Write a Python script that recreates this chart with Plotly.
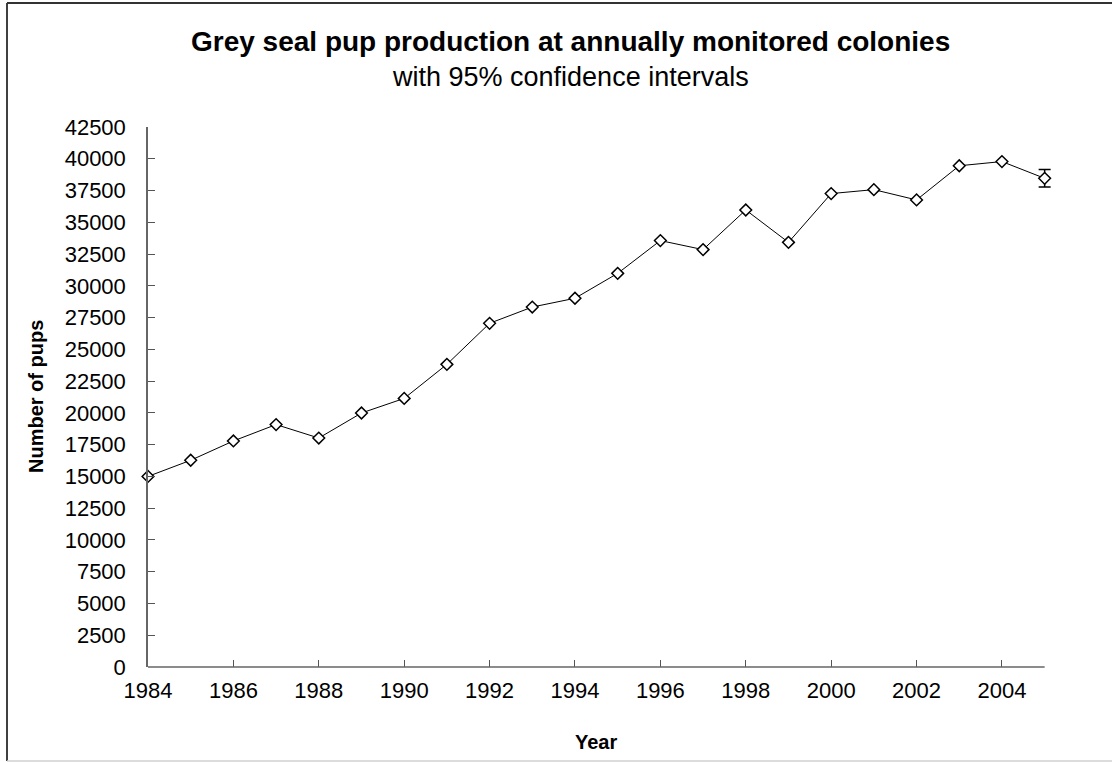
import plotly.graph_objects as go

# Grey seal pup production, annually monitored colonies
years = list(range(1984, 2006))
pups = [15000, 16270, 17790, 19080, 18020, 19990, 21140, 23820, 27050, 28330, 29020,
        30980, 33560, 32850, 35970, 33420, 37260, 37570, 36760, 39450, 39780, 38460]

# 95% confidence interval only visible for the last estimate
ci_years = [2005]
ci_est = [38460]
ci_low = [37780]
ci_high = [39150]

W, H = 1112, 762
ML, MR, MT, MB = 148, 46, 127, 95
PW, PH = W - ML - MR, H - MT - MB
FONT = "Liberation Sans, Arial, sans-serif"
AXIS_COLOR = "#666"


def px(x):
    # pixel column -> paper coordinate
    return (x - ML) / PW


def py(y):
    # pixel row -> paper coordinate
    return (H - MB - y) / PH


fig = go.Figure()
fig.add_trace(go.Scatter(
    x=ci_years, y=ci_est, mode="markers", showlegend=False, cliponaxis=False,
    marker=dict(size=1, color="rgba(0,0,0,0)"),
    error_y=dict(type="data", symmetric=False,
                 array=[h - e for h, e in zip(ci_high, ci_est)],
                 arrayminus=[e - l for e, l in zip(ci_est, ci_low)],
                 color="black", thickness=1.5, width=6),
))
fig.add_trace(go.Scatter(
    x=years, y=pups, mode="lines+markers", showlegend=False, cliponaxis=False,
    line=dict(color="black", width=1),
    marker=dict(symbol="diamond", size=9, color="white", line=dict(color="black", width=1.5)),
))

# x range padded a little on the right so the last error bar is not clipped;
# the visible axis line stops at the last year (drawn as a shape)
fig.update_layout(
    width=W, height=H, autosize=False,
    margin=dict(l=ML, r=MR, t=MT, b=MB, pad=0),
    paper_bgcolor="white", plot_bgcolor="white",
    font=dict(family=FONT, color="black", size=22),
    xaxis=dict(range=[years[0], years[-1] + 0.5], tick0=1984, dtick=2, ticks="inside",
               ticklen=7, tickcolor="#555", tickwidth=1, showline=False,
               showgrid=False, zeroline=False, ticklabelstandoff=8,
               tickfont=dict(size=22, family=FONT, color="black")),
    yaxis=dict(range=[0, 42500], tick0=0, dtick=2500, tickformat="d", ticks="inside",
               ticklen=7, tickcolor="#555", tickwidth=1, showline=True, linecolor=AXIS_COLOR,
               linewidth=1.5, showgrid=False, zeroline=False, ticklabelstandoff=16,
               tickfont=dict(size=22, family=FONT, color="black")),
    annotations=[
        dict(text="<b>Grey seal pup production at annually monitored colonies</b>",
             x=px(570), y=py(42), xref="paper", yref="paper", showarrow=False,
             xanchor="center", yanchor="middle", font=dict(size=28, family=FONT)),
        dict(text="with 95% confidence intervals",
             x=px(570), y=py(77), xref="paper", yref="paper", showarrow=False,
             xanchor="center", yanchor="middle", font=dict(size=27, family=FONT)),
        dict(text="<b>Number of pups</b>", textangle=-90,
             x=px(36), y=0.5, xref="paper", yref="paper", showarrow=False,
             xanchor="center", yanchor="middle", font=dict(size=20, family=FONT)),
        dict(text="<b>Year</b>",
             x=px(596), y=py(742), xref="paper", yref="paper", showarrow=False,
             xanchor="center", yanchor="middle", font=dict(size=20, family=FONT)),
    ],
    shapes=[
        # x axis line
        dict(type="line", xref="x", yref="paper", x0=years[0], x1=years[-1], y0=0, y1=0,
             line=dict(color=AXIS_COLOR, width=1.5), layer="above"),
        # chart frame
        dict(type="line", xref="paper", yref="paper", x0=px(7), x1=px(7), y0=py(3), y1=py(761),
             line=dict(color="black", width=1.5)),
        dict(type="line", xref="paper", yref="paper", x0=px(7), x1=px(1112), y0=py(3), y1=py(3),
             line=dict(color="#333", width=2)),
        dict(type="line", xref="paper", yref="paper", x0=px(7), x1=px(1112), y0=py(761), y1=py(761),
             line=dict(color="#d0d0d0", width=1.5)),
    ],
)

fig.write_html("out.html", config={"displayModeBar": False},
               post_script="document.body.style.margin = '0';")
